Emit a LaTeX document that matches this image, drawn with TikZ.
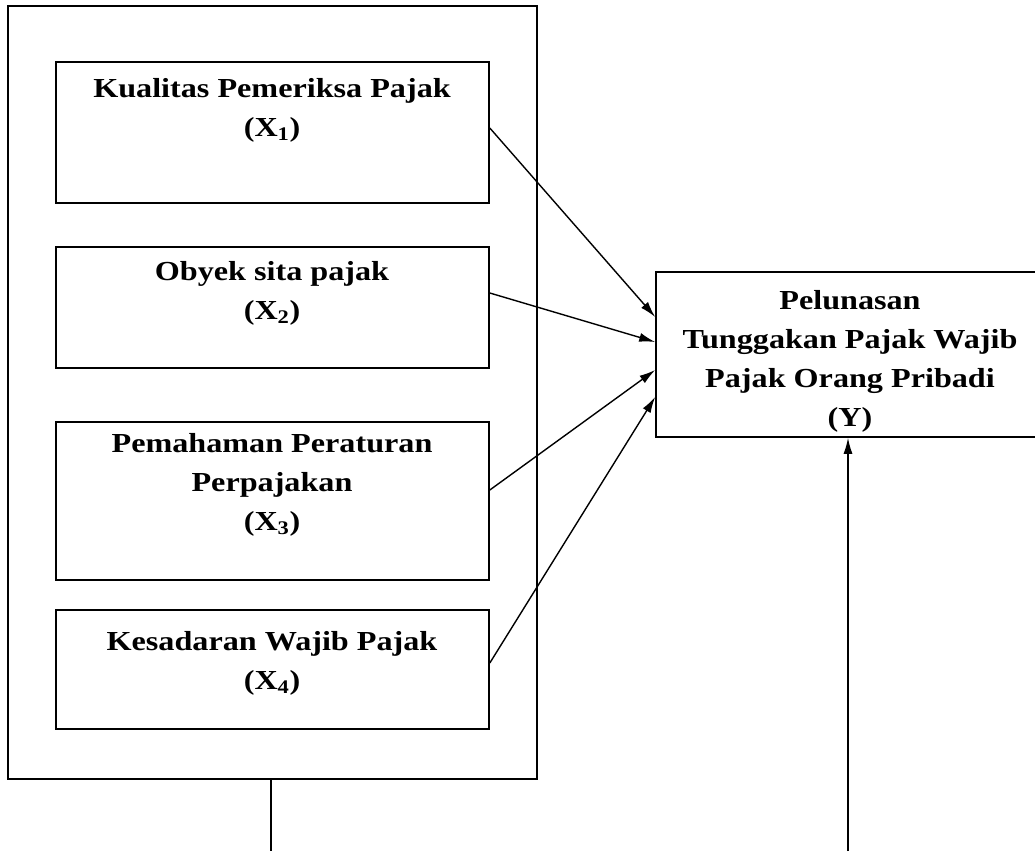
\documentclass[tikz,border=0pt]{standalone}
\usepackage{fontspec}
\setmainfont{Liberation Serif}[FakeStretch=1.17]
\usetikzlibrary{arrows.meta}
\tikzset{
  box/.style={draw, line width=1.6pt, inner sep=0pt},
  lbl/.style={font=\fontsize{27.5}{39}\selectfont\bfseries, align=center, inner sep=0pt},
  arr/.style={line width=1.4pt, -{Latex[length=16pt,width=9pt]}},
  ln/.style={line width=1.4pt}
}
\begin{document}
\begin{tikzpicture}[x=1pt,y=-1pt]
\useasboundingbox (0,0) rectangle (1035,851);
% outer frame
\node[box, minimum width=529pt, minimum height=773pt] (outer) at (272.5,392.5) {};
% inner boxes
\node[box, minimum width=433pt, minimum height=141pt] (b1) at (272.5,132.5) {};
\node[box, minimum width=433pt, minimum height=121pt] (b2) at (272.5,307.5) {};
\node[box, minimum width=433pt, minimum height=158pt] (b3) at (272.5,501) {};
\node[box, minimum width=433pt, minimum height=119pt] (b4) at (272.5,669.5) {};
\node[box, minimum width=389pt, minimum height=165pt] (Y) at (850.5,354.5) {};
% labels
\node[lbl] (t1) at (272,110) {Kualitas Pemeriksa Pajak\\(X\textsubscript{1})};
\node[lbl] (t2) at (272,293) {Obyek sita pajak\\(X\textsubscript{2})};
\node[lbl] (t3) at (272,485) {Pemahaman Peraturan\\Perpajakan\\(X\textsubscript{3})};
\node[lbl] (t4) at (272,663) {Kesadaran Wajib Pajak\\(X\textsubscript{4})};
\node[lbl] (ty) at (850,361) {Pelunasan\\Tunggakan Pajak Wajib\\Pajak Orang Pribadi\\(Y)};
% arrows
\draw[arr] ([yshift=4.5pt]b1.east) -- ([yshift=37.5pt]Y.west);
\draw[arr] ([yshift=14.5pt]b2.east) -- ([yshift=12.5pt]Y.west);
\draw[arr] ([yshift=11pt]b3.east) -- ([yshift=-15.5pt]Y.west);
\draw[arr] ([yshift=6.5pt]b4.east) -- ([yshift=-42.5pt]Y.west);
% bottom lines
\coordinate (bl) at (271,851);
\coordinate (br) at (848,851);
\draw[ln] ([xshift=-1.5pt]outer.south) -- (bl);
\draw[arr] (br) -- ([xshift=-2.5pt]Y.south);
\end{tikzpicture}
\end{document}
